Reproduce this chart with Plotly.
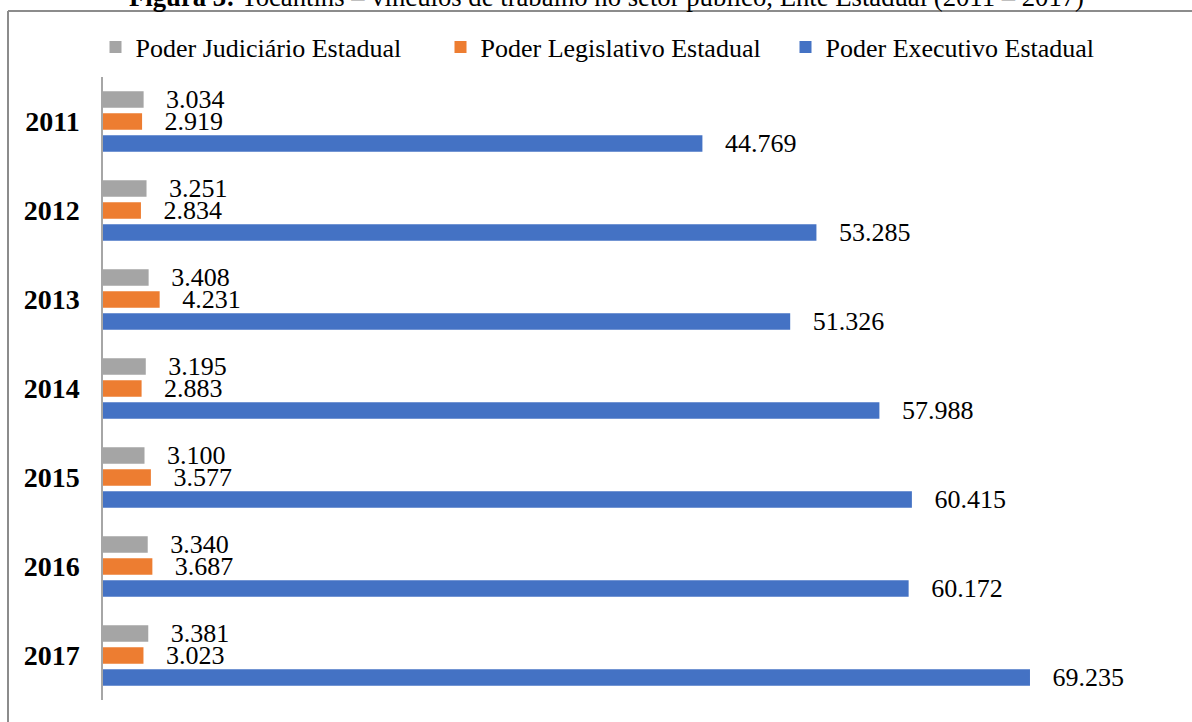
import plotly.graph_objects as go

years = ["2011", "2012", "2013", "2014", "2015", "2016", "2017"]
judiciario = [3034, 3251, 3408, 3195, 3100, 3340, 3381]
legislativo = [2919, 2834, 4231, 2883, 3577, 3687, 3023]
executivo = [44769, 53285, 51326, 57988, 60415, 60172, 69235]

series_names = ["Poder Judiciário Estadual", "Poder Legislativo Estadual", "Poder Executivo Estadual"]
series_values = [judiciario, legislativo, executivo]
series_colors = ["#A5A5A5", "#ED7D31", "#4472C4"]

title_text = "<b>Figura 3:</b> Tocantins – vínculos de trabalho no setor público, Ente Estadual (2011 – 2017)"

FONT = '"Liberation Serif", serif'

fig = go.Figure()
for name, vals, col in zip(series_names, series_values, series_colors):
    fig.add_trace(go.Bar(
        y=years, x=vals, name=name, orientation="h",
        marker=dict(color=col, line=dict(width=0)),
        text=vals,
        texttemplate="\u00a0\u00a0\u00a0%{x:,}",
        textposition="outside",
        constraintext="none",
        cliponaxis=False,
        textfont=dict(family=FONT, size=26, color="#000000"),
        hoverinfo="skip",
    ))

PW = 1192 - 103 - 20
PH = 722 - 77 - 22

fig.update_layout(
    width=1192, height=722,
    barmode="group",
    bargap=0.26,
    bargroupgap=0.25,
    separators=",.",
    paper_bgcolor="white",
    plot_bgcolor="white",
    font=dict(family=FONT, size=26, color="#000000"),
    margin=dict(l=103, r=20, t=77, b=22, autoexpand=False),
    showlegend=True,
    legend=dict(
        orientation="h", xref="container", yref="container",
        x=0.5 + 17 / 1192, xanchor="center",
        y=1 - 47 / 722, yanchor="middle",
        font=dict(family=FONT, size=26, color="#000000"),
        traceorder="normal",
        entrywidth=300,
        bgcolor="rgba(0,0,0,0)",
    ),
    xaxis=dict(
        range=[0, 79842], visible=False, showgrid=False, zeroline=False,
        automargin=False,
    ),
    yaxis=dict(
        autorange="reversed", automargin=False,
        showline=True, linecolor="#A6A6A6", linewidth=1.5,
        ticks="", showgrid=False, zeroline=False,
        tickmode="array", tickvals=years,
        ticktext=["<b>" + y + "</b>" for y in years],
        tickfont=dict(family=FONT, size=28, color="#000000"),
        ticklabelstandoff=16,
    ),
    shapes=[
        dict(type="line", xref="paper", yref="paper",
             x0=-95 / PW, x1=1.1, y0=1 + 66 / PH, y1=1 + 66 / PH,
             line=dict(color="#8C8C8C", width=2)),
        dict(type="line", xref="paper", yref="paper",
             x0=-95 / PW, x1=-95 / PW, y0=1 + 66 / PH, y1=-0.1,
             line=dict(color="#8C8C8C", width=2)),
    ],
    annotations=[
        dict(text=title_text, xref="paper", yref="paper",
             x=(606 - 103) / PW, xanchor="center",
             y=1 + (77 + 3) / PH, yanchor="middle",
             showarrow=False,
             font=dict(family=FONT, size=26.7, color="#000000")),
    ],
)

fig.write_html("out.html", config={"displayModeBar": False},
               post_script="document.body.style.margin='0';")
